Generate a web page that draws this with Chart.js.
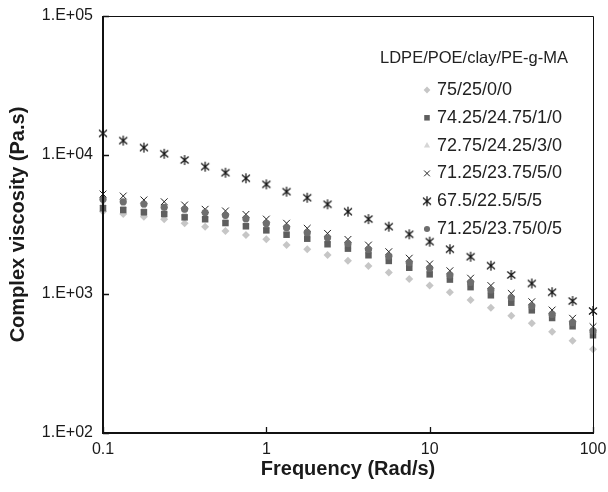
<!DOCTYPE html>
<html>
<head>
<meta charset="utf-8">
<script src="https://cdn.jsdelivr.net/npm/chart.js@4.4.1/dist/chart.umd.min.js"></script>
<style>
  html, body { margin: 0; padding: 0; background: #fff; }
  #wrap { width: 608px; height: 492px; }
</style>
</head>
<body>
<div id="wrap"><canvas id="chart" width="608" height="492"></canvas></div>
<script>
// frequency (rad/s), 8 points per decade
const FREQ = [0.1, 0.133, 0.178, 0.237, 0.316, 0.422, 0.562, 0.75, 1, 1.33, 1.78, 2.37,
  3.16, 4.22, 5.62, 7.5, 10, 13.3, 17.8, 23.7, 31.6, 42.2, 56.2, 75, 100];

// complex viscosity (Pa.s)
const VISC_75_25_0_0 = [3920, 3760, 3600, 3450, 3230, 3050, 2840, 2660, 2475, 2250, 2100, 1910,
  1735, 1590, 1430, 1280, 1150, 1030, 905, 797, 698, 615, 536, 461, 400];
const VISC_7425_2475_1_0 = [4140, 4020, 3870, 3760, 3560, 3450, 3240, 3070, 2870, 2670, 2500, 2280,
  2120, 1900, 1730, 1545, 1385, 1270, 1120, 979, 866, 763, 672, 586, 505];
const VISC_7275_2425_3_0 = [4450, 4300, 4140, 3970, 3800, 3640, 3440, 3260, 3040, 2830, 2610, 2410,
  2200, 2020, 1810, 1630, 1480, 1330, 1170, 1040, 910, 800, 700, 615, 530];
const VISC_7125_2375_5_0 = [5240, 5070, 4750, 4610, 4370, 4070, 3960, 3740, 3460, 3230, 2970, 2730,
  2470, 2250, 2015, 1810, 1645, 1470, 1300, 1150, 1010, 880, 767, 669, 582];
const VISC_675_225_5_5 = [14300, 12700, 11300, 10200, 9200, 8240, 7460, 6800, 6150, 5450, 4930, 4420,
  3910, 3460, 3050, 2690, 2380, 2100, 1855, 1600, 1370, 1190, 1030, 890, 755];
const VISC_7125_2375_0_5 = [4800, 4610, 4440, 4200, 4070, 3850, 3680, 3480, 3220, 3000, 2760, 2540,
  2300, 2090, 1870, 1680, 1530, 1370, 1210, 1070, 940, 820, 713, 622, 541];

const SERIES_LABELS = ['75/25/0/0', '74.25/24.75/1/0', '72.75/24.25/3/0',
  '71.25/23.75/5/0', '67.5/22.5/5/5', '71.25/23.75/0/5'];
const LEGEND_TITLE = 'LDPE/POE/clay/PE-g-MA';
const X_LABELS = [0.1, 1, 10, 100];
const Y_LABELS = [100, 1000, 10000, 100000];

const FONT = "'Liberation Sans', Arial, Helvetica, sans-serif";

// excel-like star marker: an x with a vertical bar
function makeStar(size) {
  const c = document.createElement('canvas');
  c.width = size; c.height = size;
  const g = c.getContext('2d');
  const m = size / 2, r = size / 2 - 1;
  g.strokeStyle = '#111';
  g.lineWidth = 1.2;
  g.beginPath();
  g.moveTo(m - r * 0.8, m - r * 0.7); g.lineTo(m + r * 0.8, m + r * 0.7);
  g.moveTo(m + r * 0.8, m - r * 0.7); g.lineTo(m - r * 0.8, m + r * 0.7);
  g.moveTo(m, m - r); g.lineTo(m, m + r);
  g.stroke();
  return c;
}
const starImg = makeStar(12);

function toPoints(vals) {
  return vals.map((v, i) => ({ x: FREQ[i], y: v }));
}

const styles = [
  { pointStyle: 'rectRot', radius: 4, bg: '#c6c6c6', border: '#c6c6c6', bw: 0, order: 6 },
  { pointStyle: 'rect', radius: 4.6, bg: '#5e5e5e', border: '#5e5e5e', bw: 0, order: 5 },
  { pointStyle: 'triangle', radius: 4.2, bg: '#d6d6d6', border: '#d6d6d6', bw: 0, order: 7 },
  { pointStyle: 'crossRot', radius: 4.8, bg: '#222', border: '#222', bw: 1, order: 3 },
  { pointStyle: starImg, radius: 6, bg: '#111', border: '#111', bw: 1, order: 2 },
  { pointStyle: 'circle', radius: 3.6, bg: '#6e6e6e', border: '#6e6e6e', bw: 0, order: 1 }
];
const allValues = [VISC_75_25_0_0, VISC_7425_2475_1_0, VISC_7275_2425_3_0,
  VISC_7125_2375_5_0, VISC_675_225_5_5, VISC_7125_2375_0_5];

const datasets = allValues.map((vals, i) => ({
  label: SERIES_LABELS[i],
  data: toPoints(vals),
  showLine: false,
  pointStyle: styles[i].pointStyle,
  pointRadius: styles[i].radius,
  pointBackgroundColor: styles[i].bg,
  pointBorderColor: styles[i].border,
  pointBorderWidth: styles[i].bw,
  order: styles[i].order,
  clip: false
}));

function isDecade(v) {
  const l = Math.log10(v);
  return Math.abs(l - Math.round(l)) < 1e-6;
}

// frame, inward tick marks and the legend
const framePlugin = {
  id: 'frame',
  afterDraw(chart) {
    const ctx = chart.ctx;
    const { left, right, top, bottom } = chart.chartArea;
    const xs = chart.scales.x, ys = chart.scales.y;
    ctx.save();
    ctx.strokeStyle = '#111';
    ctx.lineWidth = 1;
    ctx.beginPath();
    ctx.moveTo(left, top + 0.5); ctx.lineTo(right + 0.5, top + 0.5); ctx.lineTo(right + 0.5, bottom);
    ctx.stroke();
    ctx.lineWidth = 2;
    ctx.beginPath();
    ctx.moveTo(left, top); ctx.lineTo(left, bottom); ctx.lineTo(right + 1, bottom);
    ctx.stroke();

    ctx.lineWidth = 1.3;
    ctx.beginPath();
    xs.ticks.forEach(t => {
      const px = Math.round(xs.getPixelForValue(t.value)) + 0.5;
      const len = isDecade(t.value) ? 6 : 4;
      ctx.moveTo(px, bottom); ctx.lineTo(px, bottom - len);
    });
    ys.ticks.forEach(t => {
      const py = Math.round(ys.getPixelForValue(t.value)) + 0.5;
      const len = isDecade(t.value) ? 6 : 4;
      ctx.moveTo(left, py); ctx.lineTo(left + len, py);
    });
    ctx.stroke();

    // legend
    ctx.fillStyle = '#222';
    ctx.textBaseline = 'middle';
    ctx.textAlign = 'right';
    ctx.font = '16.5px ' + FONT;
    ctx.fillText(LEGEND_TITLE, 568, 58);
    ctx.textAlign = 'left';
    ctx.font = '18px ' + FONT;
    SERIES_LABELS.forEach((lab, i) => {
      const y = 90 + i * 27.8;
      const st = styles[i];
      ctx.save();
      ctx.fillStyle = st.bg;
      ctx.strokeStyle = st.border;
      ctx.lineWidth = st.bw;
      Chart.helpers.drawPoint(ctx, { pointStyle: st.pointStyle, radius: st.radius * 0.85, rotation: 0, borderWidth: st.bw }, 427, y);
      ctx.restore();
      ctx.fillStyle = '#222';
      ctx.fillText(lab, 437, y);
    });
    ctx.restore();
  }
};

new Chart(document.getElementById('chart').getContext('2d'), {
  type: 'scatter',
  data: { datasets },
  options: {
    responsive: false,
    animation: false,
    devicePixelRatio: 1,
    layout: { padding: { top: 16, right: 15, left: 0, bottom: 0 } },
    plugins: { legend: { display: false }, tooltip: { enabled: false } },
    scales: {
      x: {
        type: 'logarithmic',
        min: 0.1,
        max: 100,
        grid: { display: false, drawTicks: false },
        border: { display: false },
        ticks: {
          autoSkip: false,
          maxRotation: 0,
          padding: 7,
          color: '#1a1a1a',
          font: { family: FONT, size: 16 },
          callback: v => X_LABELS.some(l => Math.abs(l - v) < 1e-9) ? String(v) : null
        },
        title: {
          display: true,
          text: 'Frequency (Rad/s)',
          color: '#1a1a1a',
          font: { family: FONT, size: 20, weight: 'bold' },
          padding: { top: 0, bottom: 11 }
        },
        afterFit(scale) {
          scale.height = 59;
          scale.paddingLeft = 0;
          scale.paddingRight = 0;
        }
      },
      y: {
        type: 'logarithmic',
        min: 100,
        max: 100000,
        grid: { display: false, drawTicks: false },
        border: { display: false },
        ticks: {
          autoSkip: false,
          padding: 10,
          color: '#1a1a1a',
          font: { family: FONT, size: 16 },
          callback: v => Y_LABELS.includes(v) ? '1.E+0' + Math.round(Math.log10(v)) : null
        },
        title: {
          display: true,
          text: 'Complex viscosity (Pa.s)',
          color: '#1a1a1a',
          font: { family: FONT, size: 20, weight: 'bold' },
          padding: { top: 6, bottom: 0 }
        },
        afterFit(scale) {
          scale.width = 103;
          scale.paddingTop = 0;
          scale.paddingBottom = 0;
        }
      }
    }
  },
  plugins: [framePlugin]
});
</script>
</body>
</html>
